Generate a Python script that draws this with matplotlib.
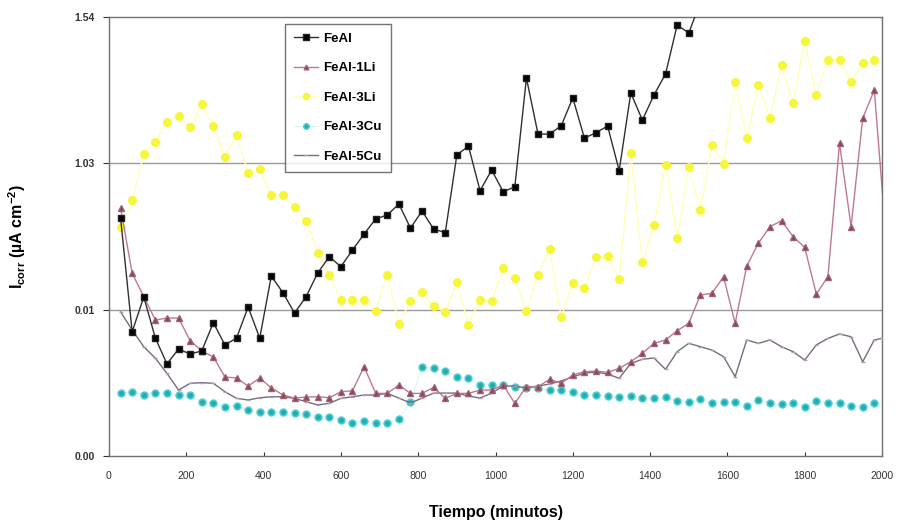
import numpy as np
import matplotlib
matplotlib.use("Agg")
import matplotlib.pyplot as plt

plt.rcParams['font.family'] = ['Liberation Sans', 'DejaVu Sans']
plt.rcParams['mathtext.default'] = 'regular'

# y values are in "grid band" units: 0 -> 0.00, 1 -> 0.01, 2 -> 1.03, 3 -> 1.54
ytick_pos = [0, 1, 2, 3]
ytick_lab = ["0.00", "0.01", "1.03", "1.54"]
xticks = [0, 200, 400, 600, 800, 1000, 1200, 1400, 1600, 1800, 2000]

t_feal = np.arange(30, 1531, 30)
feal = [1.626, 0.849, 1.087, 0.806, 0.629, 0.731, 0.697, 0.718, 0.911, 0.759,
        0.806, 1.018, 0.806, 1.230, 1.116, 0.977, 1.089, 1.251, 1.362, 1.294,
        1.408, 1.517, 1.620, 1.647, 1.722, 1.558, 1.674, 1.551, 1.526, 2.057,
        2.118, 1.813, 1.954, 1.806, 1.840, 2.583, 2.200, 2.200, 2.257, 2.447,
        2.173, 2.209, 2.255, 1.950, 2.481, 2.296, 2.467, 2.611, 2.945, 2.891,
        3.100]

t_li1 = list(np.arange(30, 1981, 30)) + [2010]
li1 = [1.695, 1.249, 1.089, 0.929, 0.943, 0.943, 0.788, 0.718, 0.677, 0.540,
       0.533, 0.478, 0.533, 0.465, 0.417, 0.396, 0.403, 0.405, 0.398, 0.439,
       0.446, 0.610, 0.428, 0.428, 0.485, 0.428, 0.428, 0.469, 0.394, 0.428,
       0.428, 0.451, 0.451, 0.485, 0.360, 0.474, 0.474, 0.524, 0.497, 0.554,
       0.576, 0.581, 0.572, 0.599, 0.644, 0.702, 0.770, 0.793, 0.856, 0.907,
       1.100, 1.112, 1.225, 0.907, 1.298, 1.454, 1.567, 1.608, 1.499, 1.426,
       1.107, 1.225, 2.137, 1.567, 2.308, 2.501, 1.500]

t_li3 = np.arange(30, 1981, 30)
li3 = [1.567, 1.749, 2.064, 2.148, 2.285, 2.324, 2.246, 2.406, 2.255, 2.045,
       2.194, 1.936, 1.959, 1.784, 1.784, 1.704, 1.606, 1.389, 1.237, 1.066,
       1.066, 1.066, 0.993, 1.240, 0.899, 1.061, 1.121, 1.023, 0.984, 1.188,
       0.895, 1.068, 1.061, 1.283, 1.214, 0.990, 1.240, 1.413, 0.950, 1.180,
       1.146, 1.362, 1.367, 1.211, 2.074, 1.328, 1.579, 1.992, 1.493, 1.977,
       1.681, 2.125, 1.995, 2.558, 2.171, 2.535, 2.308, 2.672, 2.414, 2.838,
       2.467, 2.706, 2.706, 2.558, 2.684, 2.706]

t_cu3 = np.arange(30, 1981, 30)
cu3 = [0.428, 0.439, 0.417, 0.433, 0.428, 0.417, 0.417, 0.371, 0.364, 0.337,
       0.342, 0.314, 0.303, 0.298, 0.303, 0.292, 0.284, 0.269, 0.269, 0.246,
       0.228, 0.241, 0.228, 0.228, 0.251, 0.371, 0.610, 0.599, 0.583, 0.542,
       0.531, 0.485, 0.485, 0.485, 0.474, 0.462, 0.462, 0.451, 0.451, 0.439,
       0.417, 0.417, 0.410, 0.405, 0.410, 0.394, 0.394, 0.401, 0.378, 0.372,
       0.387, 0.360, 0.371, 0.371, 0.342, 0.383, 0.360, 0.353, 0.360, 0.337,
       0.378, 0.364, 0.364, 0.342, 0.337, 0.364]

t_cu5 = list(np.arange(30, 1981, 30)) + [2000]
cu5 = [0.985, 0.861, 0.747, 0.668, 0.565, 0.451, 0.497, 0.501, 0.497, 0.439,
       0.394, 0.383, 0.398, 0.405, 0.405, 0.394, 0.371, 0.349, 0.360, 0.394,
       0.405, 0.417, 0.417, 0.428, 0.396, 0.362, 0.396, 0.430, 0.430, 0.430,
       0.410, 0.396, 0.430, 0.478, 0.478, 0.465, 0.478, 0.492, 0.513, 0.540,
       0.567, 0.574, 0.560, 0.531, 0.633, 0.661, 0.670, 0.592, 0.713, 0.770,
       0.747, 0.724, 0.679, 0.542, 0.793, 0.770, 0.793, 0.747, 0.713, 0.656,
       0.759, 0.804, 0.834, 0.815, 0.644, 0.793, 0.804]

fig = plt.figure(figsize=(8.97, 5.25), dpi=100)
ax = fig.add_axes([0.1215, 0.1314, 0.8618, 0.8362])

ax.plot(t_li3, li3, '-', color='#ffffb8', lw=1.0, marker='o', ms=5.5,
        mfc='#f6f63a', mec='#f6f63a', label='FeAl-3Li', zorder=2)
ax.plot(t_cu3, cu3, '-', color='#d0f2f2', lw=0.6, marker='o', ms=4.8,
        mfc='#2aa8b0', mec='#48d0d0', mew=1.2, label='FeAl-3Cu', zorder=3)
ax.plot(t_cu5, cu5, '-', color='#7a6a80', lw=1.0, marker='_', ms=3,
        mec='#b0a0b0', label='FeAl-5Cu', zorder=4)
ax.plot(t_li1, li1, '-', color='#c07890', lw=1.0, marker='^', ms=4.2,
        mfc='#7a4a5a', mec='#a06070', label='FeAl-1Li', zorder=5)
ax.plot(t_feal, feal, '-', color='#303030', lw=1.0, marker='s', ms=4.6,
        mfc='black', mec='#202020', label='FeAl', zorder=6)

ax.set_xlim(0, 2000)
ax.set_ylim(0, 3)
ax.set_xticks(xticks)
ax.set_yticks(ytick_pos)
ax.set_yticklabels(ytick_lab)
ax.tick_params(axis='x', labelsize=7.5, direction='in', length=3,
               colors='#333333', pad=11)
ax.tick_params(axis='y', labelsize=7.5, direction='out', length=4,
               colors='#333333', pad=6)
for lab in ax.get_yticklabels():
    lab.set_fontweight('bold')
for sp in ax.spines.values():
    sp.set_color('#707070')
    sp.set_linewidth(1.0)
for yv in [1, 2]:
    ax.axhline(yv, color='#9a9a9a', lw=1.0, zorder=1)

ax.set_xlabel("Tiempo (minutos)", fontsize=11.5, fontweight='bold',
              labelpad=17)
ax.set_ylabel("I$_{corr}$ (µA cm$^{-2}$)", fontsize=11.5, fontweight='bold')
ax.yaxis.set_label_coords(-0.105, 0.5)

handles, labels = ax.get_legend_handles_labels()
order = ['FeAl', 'FeAl-1Li', 'FeAl-3Li', 'FeAl-3Cu', 'FeAl-5Cu']
hmap = dict(zip(labels, handles))
leg = ax.legend([hmap[k] for k in order], order, loc='upper left',
                bbox_to_anchor=(0.219, 1.0), fancybox=False,
                prop={'weight': 'bold', 'size': 9.5}, handlelength=1.8,
                handletextpad=0.4, labelspacing=1.3, borderpad=0.7,
                markerscale=0.8)
leg.get_frame().set_edgecolor('#505050')
leg.get_frame().set_linewidth(1.0)

fig.savefig("out.png", dpi=100)
